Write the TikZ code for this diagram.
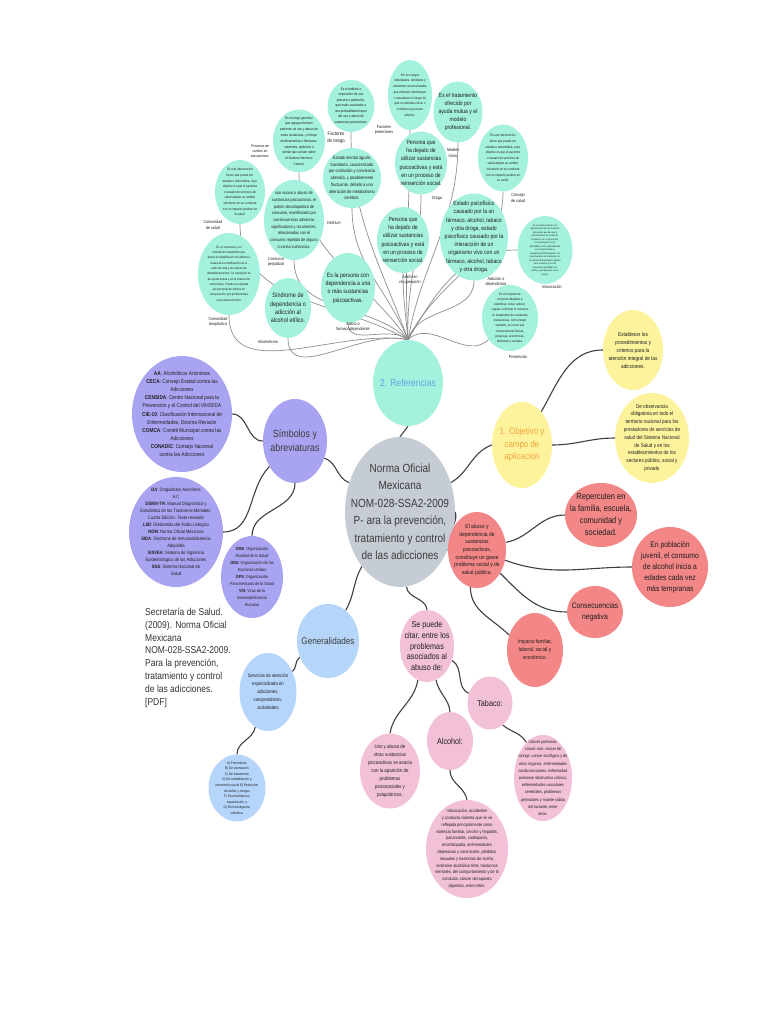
\documentclass[tikz,border=0pt]{standalone}
\usepackage{fontspec}
\setmainfont{Liberation Sans}[FakeStretch=0.85]
\usetikzlibrary{shapes.geometric}
\pgfdeclarelayer{bg}
\pgfsetlayers{bg,main}
\definecolor{mint}{HTML}{A4F1DE}
\definecolor{lav}{HTML}{A9A4F2}
\definecolor{cgray}{HTML}{C6CCD4}
\definecolor{yel}{HTML}{FDF39C}
\definecolor{salmon}{HTML}{F38686}
\definecolor{sky}{HTML}{B5D5FB}
\definecolor{pinkb}{HTML}{F2C1D7}
\definecolor{ink}{HTML}{1E1E1E}
\definecolor{cenink}{HTML}{3C3C3C}
\definecolor{refblue}{HTML}{5AA7E3}
\definecolor{objor}{HTML}{F0A53C}
\definecolor{linedark}{HTML}{404040}
\definecolor{linegray}{HTML}{8E8E8E}
\definecolor{sectext}{HTML}{333333}
\newcommand\fs[2]{\fontsize{#1pt}{#2pt}\selectfont}
\newcommand\btcol{ink}
\tikzset{
  bub/.style={ellipse,draw=none,inner sep=0pt},
  btxt/.style={align=center,inner sep=0pt},
  lab/.style={align=center,inner sep=0pt,text=ink,font=\fs{4.3}{5.6}},
  refline/.style={draw=linegray,line width=0.7pt},
  mainline/.style={draw=linedark,line width=1.1pt}
}
\newcommand\bub[9]{%
  \node[bub,fill=#6,minimum width=#4pt,minimum height=#5pt] (#1) at (#2,#3) {};
  \node[btxt,text=\btcol,font=\fs{#7}{#8}] (#1-t) at (#1.center) {#9};}
\begin{document}
\begin{tikzpicture}[x=1pt,y=1pt]
\begin{pgfonlayer}{bg}
\fill[white] (0,0) rectangle (768,-1024);
\end{pgfonlayer}
\path[use as bounding box] (0,0) rectangle (768,-1024);

% ---------- central ----------
{\renewcommand\btcol{cenink}%
\bub{cen}{400}{-512}{110}{150}{cgray}{11.8}{17.5}{Norma Oficial\\Mexicana\\NOM-028-SSA2-2009\\P- ara la prevención,\\tratamiento y control\\de las adicciones}}
{\renewcommand\btcol{refblue}%
\bub{ref}{408}{-383}{70}{86}{mint}{10}{12}{2. Referencias}}

% ---------- referencias cluster ----------
\bub{riesgo}{351}{-106}{47}{52}{mint}{3.6}{5.5}{Es el atributo o\\exposición de una\\persona o población,\\que están asociados a\\una probabilidad mayor\\del uso y abuso de\\sustancias psicoactivas.}
\bub{patron}{299}{-141}{52}{63}{mint}{3.6}{5.8}{Es el rasgo genérico\\que agrupa diversos\\patrones de uso y abuso de\\estas sustancias, y incluye\\medicamentos o fármacos,\\solventes, opiáceos o\\similar que actúan sobre\\el Sistema Nervioso\\Central.}
\bub{prot}{410}{-95}{44}{70}{mint}{3.4}{5.7}{Por los rasgos\\individuales, familiares y\\elementos socioculturales\\que eliminan, disminuyen\\o neutralizan el riesgo de\\que un individuo inicie o\\continúe un proceso\\adictivo.}
\bub{mixto}{458}{-112}{49}{61}{mint}{6}{8}{Es el tratamiento\\ofrecido por\\ayuda mutua y el\\modelo\\profesional.}
\bub{recupA}{421}{-163}{52}{63}{mint}{6}{8.1}{Persona que\\ha dejado de\\utilizar sustancias\\psicoactivas y está\\en un proceso de\\reinserción social.}
\bub{consejo}{503}{-158}{50}{67}{mint}{3.4}{5.6}{Es una intervención\\breve que puede ser\\aislada o sistemática, cuyo\\objetivo es que el paciente\\o usuario de servicios de\\salud adopte un cambio\\voluntario en su conducta\\con un impacto positivo en\\su salud.}
\bub{delirium}{352}{-178}{58}{60}{mint}{4.6}{6.7}{Estado mental agudo,\\transitorio, caracterizado\\por confusión y conciencia\\alterada, y posiblemente\\fluctuante, debido a una\\alteración de metabolismo\\cerebral.}
\bub{comsal}{240}{-192}{50}{64}{mint}{3.4}{5.6}{Es una intervención\\breve que puede ser\\aislada o sistemática, cuyo\\objetivo es que el paciente\\o usuario de servicios de\\salud adopte un cambio\\voluntario en su conducta\\con un impacto positivo en\\la salud.}
\bub{perj}{294}{-220}{60}{80}{mint}{4.4}{6.7}{uso nocivo o abuso de\\sustancias psicoactivas, el\\patrón desadaptativo de\\consumo, manifestado por\\consecuencias adversas\\significativas y recurrentes,\\relacionadas con el\\consumo repetido de alguna\\o varias sustancias.}
\bub{comter}{229}{-274}{62}{82}{mint}{3.2}{5.3}{Es un consenso y un\\método de tratamiento que\\busca la rehabilitación de adictos a\\través de la modificación en el\\estilo de vida y de valores de\\identidad personal. Su operación es\\de ayuda mutua y en la interacción\\comunitaria. Puede ser operada\\por personal de adictos en\\recuperación, por profesionales\\o por personal mixto.}
\bub{alcoh}{288}{-308}{46}{60}{mint}{6.4}{8.3}{Síndrome de\\dependencia o\\adicción al\\alcohol etílico.}
\bub{adicto}{348}{-288}{54}{70}{mint}{6.2}{8.3}{Es la persona con\\dependencia a una\\o más sustancias\\psicoactivas.}
\bub{recupB}{403}{-240}{52}{66}{mint}{6}{8.3}{Persona que\\ha dejado de\\utilizar sustancias\\psicoactivas y está\\en un proceso de\\reinserción social.}
\bub{adiccion}{474}{-237}{68}{87}{mint}{6}{8.2}{Estado psicofísico\\causado por la un\\fármaco, alcohol, tabaco\\y otra droga, estado\\psicofísico causado por la\\interacción de un\\organismo vivo con un\\fármaco, alcohol, tabaco\\y otra droga.}
\bub{intox}{545}{-250}{55}{68}{mint}{2.4}{3.5}{Es un estado posterior a la\\administración de una sustancia\\psicoactiva, que da lugar a\\perturbaciones en el nivel de\\conciencia, en lo cognoscitivo,\\en la percepción, en la\\afectividad, en el comportamiento\\o en otras funciones y\\respuestas psicofisiológicas. Las\\perturbaciones se relacionan con\\los efectos farmacológicos agudos\\de la sustancia y con las\\respuestas aprendidas a la\\misma, y desaparecen con el\\tiempo.}
\bub{prev}{510}{-318}{56}{66}{mint}{3.3}{5.3}{Es el conjunto de\\acciones dirigidas a\\identificar, evitar, reducir,\\regular o eliminar el consumo\\no terapéutico de sustancias\\psicoactivas, como riesgo\\sanitario, así como sus\\consecuencias físicas,\\psíquicas, económicas,\\familiares y sociales.}

\node[lab,font=\fs{5}{7}] (lriesgo) at (336,-138) {Factores\\de riesgo};
\node[lab,font=\fs{3.8}{5}] (lpatron) at (260,-152) {Procesos de\\cambio en\\psicoactivos};
\node[lab] (lprot) at (384,-130) {Factores\\protectores};
\node[lab] (lmixto) at (453,-153) {Modelo\\mixto};
\node[lab] (ldroga) at (437,-198) {Droga};
\node[lab] (lconsejo) at (518,-198) {Consejo\\de salud};
\node[lab] (lcomsal) at (213,-225) {Comunidad\\de salud};
\node[lab] (ldelirium) at (334,-223) {Delirium};
\node[lab] (lperj) at (276,-262) {Consumo\\perjudicial};
\node[lab] (lcomter) at (218,-322) {Comunidad\\terapéutica};
\node[lab] (lalcoh) at (268,-342) {Alcoholismo};
\node[lab] (ladicto) at (353,-327) {Adicto o\\farmacodependiente};
\node[lab] (lrecup) at (410,-280) {Adicto en\\recuperación};
\node[lab] (ladiccion) at (496,-282) {Adicción o\\dependencia};
\node[lab] (lintox) at (552,-287) {Intoxicación};
\node[lab] (lprev) at (518,-357) {Prevención};

% ---------- simbolos ----------
{\renewcommand\btcol{cenink}%
\bub{sym}{295}{-441}{64}{84}{lav}{10.5}{14}{Símbolos y\\abreviaturas}}
\bub{aa}{182}{-414}{100}{116}{lav}{5.6}{8.1}{\textbf{AA}: Alcohólicos Anónimos\\\textbf{CECA}: Consejo Estatal contra las\\Adicciones\\\textbf{CENSIDA}: Centro Nacional para la\\Prevención y el Control del VIH/SIDA\\\textbf{CIE-10}: Clasificación Internacional de\\Enfermedades, Décima Revisión\\\textbf{COMCA}: Comité Municipal contra las\\Adicciones\\\textbf{CONADIC}: Consejo Nacional\\contra las Adicciones}
\bub{da}{176}{-532}{94}{110}{lav}{4.8}{7}{\textbf{DA}: Drogadictos Anónimos\\A.C\\\textbf{DSMIV-TR}: Manual Diagnóstico y\\Estadístico de los Trastornos Mentales,\\Cuarta Edición. Texto revisado\\\textbf{LSD}: Dietilamida del Ácido Lisérgico\\\textbf{NOM}: Norma Oficial Mexicana\\\textbf{SIDA}: Síndrome de Inmunodeficiencia\\Adquirida\\\textbf{SISVEA}: Sistema de Vigilancia\\Epidemiológica de las Adicciones\\\textbf{SNS}: Sistema Nacional de\\Salud}
\bub{oms}{252}{-577}{62}{82}{lav}{4.4}{7}{\textbf{OMS}: Organización\\Mundial de la Salud\\\textbf{ONU}: Organización de las\\Naciones Unidas\\\textbf{OPS}: Organización\\Panamericana de la Salud\\\textbf{VIH}: Virus de la\\Inmunodeficiencia\\Humana}

% ---------- objetivo ----------
{\renewcommand\btcol{objor}%
\bub{obj}{522}{-445}{60}{86}{yel}{9.3}{12.5}{1. Objetivo y\\campo de\\aplicación}}
\bub{est}{633}{-350}{60}{80}{yel}{5.6}{8}{Establecer los\\procedimientos y\\criterios para la\\atención integral de las\\adicciones.}
\bub{obs}{652}{-438}{74}{90}{yel}{5.4}{7.8}{De observancia\\obligatoria en todo el\\territorio nacional para los\\prestadores de servicios de\\salud del Sistema Nacional\\de Salud y en los\\establecimientos de los\\sectores público, social y\\privado}

% ---------- rojo ----------
\bub{red}{477}{-550}{58}{76}{salmon}{5.8}{7.6}{El abuso y\\dependencia de\\sustancias\\psicoactivas,\\constituye un grave\\problema social y de\\salud pública.}
\bub{rep}{601}{-515}{72}{64}{salmon}{8.8}{12}{Repercuten en\\la familia, escuela,\\comunidad y\\sociedad.}
\bub{pob}{670}{-567}{76}{80}{salmon}{8}{11}{En población\\juvenil, el consumo\\de alcohol inicia a\\edades cada vez\\más tempranas}
\bub{con}{595}{-612}{56}{52}{salmon}{8}{11.5}{Consecuencias\\negativa}
\bub{imp}{535}{-650}{56}{74}{salmon}{5.5}{8}{Impacto familiar,\\laboral, social y\\económico.}

% ---------- generalidades ----------
{\renewcommand\btcol{cenink}%
\bub{gen}{328}{-641}{62}{74}{sky}{9.6}{12}{Generalidades}}
\bub{srv}{268}{-692}{57}{78}{sky}{5}{8}{Servicios de atención\\especializada en\\adicciones,\\comprenderán,\\actividades}
\bub{ag}{237}{-788}{57}{67}{sky}{3.6}{5.6}{A) Preventivas\\B) De orientación\\C) De tratamiento\\D) De rehabilitación y\\reinserción social E) Reducción\\de daños y riesgos\\F) De enseñanza y\\capacitación, y\\G) De investigación\\científica.}

% ---------- problemas ----------
\bub{sp}{427}{-646}{54}{72}{pinkb}{8.5}{10.8}{Se puede\\citar, entre los\\problemas\\asociados al\\abuso de:}
\bub{tab}{490}{-703}{45}{53}{pinkb}{8.5}{10}{Tabaco:}
\bub{alc}{450}{-741}{46}{58}{pinkb}{8.5}{10}{Alcohol:}
\bub{uso}{390}{-771}{60}{75}{pinkb}{5.2}{8}{Uso y abuso de\\otras sustancias\\psicoactivas se asocia\\con la aparición de\\problemas\\psicosociales y\\psiquiátricos.}
\bub{tabd}{543}{-778}{58}{86}{pinkb}{4.3}{7.2}{Cáncer pulmonar,\\cáncer oral, cáncer de\\laringe, cáncer esofágico y de\\otros órganos, enfermedades\\cardiovasculares, enfermedad\\pulmonar obstructiva crónica,\\enfermedades vasculares\\cerebrales, problemas\\perinatales y muerte súbita\\del lactante, entre\\otros.}
\bub{alcd}{467}{-849}{82}{98}{pinkb}{4.5}{6.8}{Intoxicación, accidentes\\y conducta violenta que se ve\\reflejada principalmente como\\violencia familiar, cirrosis y hepatitis,\\pancreatitis, cardiopatía,\\encefalopatía, enfermedades\\depresivas y carenciales, pérdidas\\sexuales y trastornos de sueño,\\síndrome alcohólico fetal, trastornos\\mentales, del comportamiento y de la\\conducta, cáncer del aparato\\digestivo, entre otros.}

% ---------- cita ----------
\node[anchor=north west,align=left,inner sep=0pt,text=sectext,font=\fs{10}{12.8}] (sec) at (145,-608) {Secretaría de Salud.\\(2009). Norma Oficial\\Mexicana\\NOM-028-SSA2-2009.\\Para la prevención,\\tratamiento y control\\de las adicciones.\\{[PDF]}};

% ---------- connectors ----------
\begin{pgfonlayer}{bg}
\foreach \t/\o in {riesgo/110, patron/125, prot/93, mixto/80, recupA/92, consejo/65, delirium/112, comsal/150, perj/135, comter/170, alcoh/165, adicto/140, recupB/95, adiccion/75}
  \draw[refline] (ref.north) to[out=\o,in=-90] (\t.south);
\draw[refline] (ref.north) to[out=60,in=180] (intox.west);
\draw[refline] (ref.north) to[out=45,in=225] (prev.225);

\draw[mainline] (cen.north) to (ref.south);
\draw[mainline] (cen.150) to[out=160,in=-20] (sym.-30);
\draw[mainline] (sym.west) to[out=180,in=0] (aa.east);
\draw[mainline] (sym.225) to[out=225,in=0] (da.east);
\draw[mainline] (sym.south) to[out=-90,in=90] (oms.north);
\draw[mainline] (cen.30) to[out=30,in=200] (obj.west);
\draw[mainline] (obj.60) to[out=60,in=180] (est.west);
\draw[mainline] (obj.east) to[out=0,in=180] (obs.west);
\draw[mainline] (cen.east) to[out=-70,in=180] (red.west);
\draw[mainline] (red.15) to[out=10,in=180] (rep.west);
\draw[mainline] (red.-20) to[out=-20,in=180] (pob.west);
\draw[mainline] (red.-45) to[out=-45,in=180] (con.west);
\draw[mainline] (red.-100) to[out=-90,in=135] (imp.150);
\draw[mainline] (cen.-125) to[out=-120,in=60] (gen.60);
\draw[mainline] (gen.210) to[out=210,in=40] (srv.40);
\draw[mainline] (srv.-110) to[out=-100,in=90] (ag.north);
\draw[mainline] (cen.-85) to[out=-85,in=95] (sp.north);
\draw[mainline] (sp.-30) to[out=-30,in=160] (tab.155);
\draw[mainline] (sp.-75) to[out=-80,in=95] (alc.north);
\draw[mainline] (sp.-105) to[out=-100,in=80] (uso.north);
\draw[mainline] (tab.-60) to[out=-40,in=120] (tabd.115);
\draw[mainline] (alc.south) to[out=-90,in=100] (alcd.north);
\end{pgfonlayer}
\end{tikzpicture}
\end{document}
